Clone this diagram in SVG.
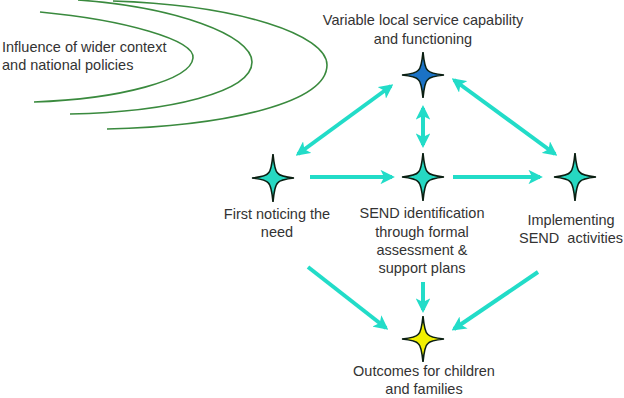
<svg xmlns="http://www.w3.org/2000/svg" width="624" height="398" viewBox="0 0 624 398">
<defs>
<style>
.t{font-family:"Liberation Sans",Arial,sans-serif;font-size:14.5px;fill:#333;}
.c{text-anchor:middle;}
.arc{fill:none;stroke:#3a8a3e;stroke-width:1.6;}
.ar{fill:none;stroke:#22dcc8;stroke-width:4;}
.star{stroke:#0b1f12;stroke-width:1.6;stroke-linejoin:miter;}
</style>
<marker id="ah" viewBox="0 0 10 10" refX="8" refY="5" markerWidth="3.6" markerHeight="3.6" orient="auto-start-reverse" markerUnits="strokeWidth">
<path d="M0,0 L10,5 L0,10 L2.5,5 Z" fill="#22dcc8"/>
</marker>
<path id="sp" d="M0,-24 Q1.6,-7 4.8,-4.8 Q7,-1.6 21,0 Q7,1.6 4.8,4.8 Q1.6,7 0,24 Q-1.6,7 -4.8,4.8 Q-7,1.6 -21,0 Q-7,-1.6 -4.8,-4.8 Q-1.6,-7 0,-24 Z"/>
</defs>
<rect width="624" height="398" fill="#fff"/>

<g id="context">
<path class="arc" d="M40,12 C125,20 195,40 193,58 C191,80 120,99 34,102"/>
<path class="arc" d="M78,0 C175,7 252,35 252,62 C252,92 170,112 70,114"/>
<path class="arc" d="M113,1 C240,5 327,35 327,65 C327,102 230,126 107,129"/>
<text class="t" x="2" y="52">Influence of wider context</text>
<text class="t" x="2" y="70">and national policies</text>
</g>

<g id="connectors">
<line class="ar" x1="310" y1="177" x2="392" y2="177" marker-end="url(#ah)"/>
<line class="ar" x1="453" y1="177" x2="540" y2="177" marker-end="url(#ah)"/>
<line class="ar" x1="391" y1="86" x2="298" y2="154" marker-start="url(#ah)" marker-end="url(#ah)"/>
<line class="ar" x1="423" y1="108" x2="423" y2="145" marker-start="url(#ah)" marker-end="url(#ah)"/>
<line class="ar" x1="454" y1="80" x2="555" y2="154" marker-start="url(#ah)" marker-end="url(#ah)"/>
<line class="ar" x1="308" y1="267" x2="386" y2="328" marker-end="url(#ah)"/>
<line class="ar" x1="423" y1="282" x2="423" y2="310" marker-end="url(#ah)"/>
<line class="ar" x1="538" y1="272" x2="454" y2="329" marker-end="url(#ah)"/>
</g>

<g id="service">
<use href="#sp" class="star" transform="translate(423,75) scale(1,0.96)" fill="#1b72c6"/>
<text class="t c" x="423" y="25">Variable local service capability</text>
<text class="t c" x="423" y="44">and functioning</text>
</g>

<g id="noticing">
<use href="#sp" class="star" transform="translate(273,178)" fill="#26d8c2"/>
<text class="t c" x="277" y="219">First noticing the</text>
<text class="t c" x="277" y="237">need</text>
</g>

<g id="identification">
<use href="#sp" class="star" transform="translate(423,177)" fill="#26d8c2"/>
<text class="t c" x="422" y="218">SEND identification</text>
<text class="t c" x="422" y="237">through formal</text>
<text class="t c" x="422" y="255">assessment &amp;</text>
<text class="t c" x="422" y="273">support plans</text>
</g>

<g id="implementing">
<use href="#sp" class="star" transform="translate(575,177)" fill="#26d8c2"/>
<text class="t c" x="571" y="225">Implementing</text>
<text class="t c" x="571" y="243" xml:space="preserve">SEND  activities</text>
</g>

<g id="outcomes">
<use href="#sp" class="star" transform="translate(423,339) scale(1,0.96)" fill="#f2f000"/>
<text class="t c" x="424" y="376">Outcomes for children</text>
<text class="t c" x="424" y="394">and families</text>
</g>
</svg>
